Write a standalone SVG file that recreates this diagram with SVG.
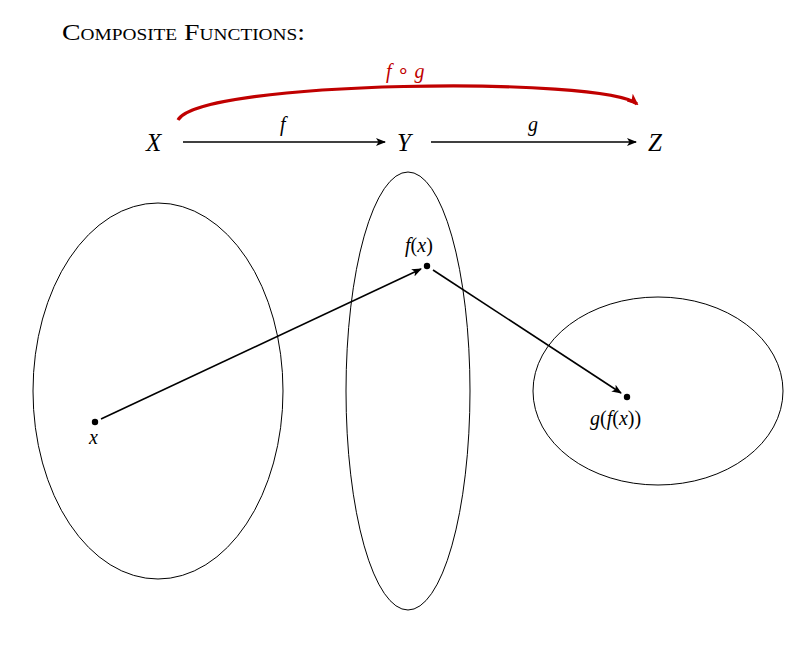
<svg xmlns="http://www.w3.org/2000/svg" width="800" height="662" viewBox="0 0 800 662">
<style>
.m{font-family:"Liberation Serif",serif;font-style:italic;fill:#000}
.u{font-style:normal}
.e{fill:none;stroke:#000;stroke-width:1}
.c{stroke:#000;stroke-width:1.6;fill:none}
</style>
<defs>
<marker id="ah" markerWidth="10" markerHeight="8" refX="9" refY="4" orient="auto" markerUnits="userSpaceOnUse"><path d="M0,0 L10,4 L0,8 L2.5,4Z" fill="#000"/></marker>
<marker id="ahr" markerWidth="12" markerHeight="10" refX="10" refY="5" orient="auto" markerUnits="userSpaceOnUse"><path d="M0,0 L12,5 L0,10 L3,5Z" fill="#c00000"/></marker>
</defs>
<rect width="800" height="662" fill="#fff"/>
<text x="62" y="40" font-family="Liberation Serif,serif" font-size="23" textLength="243" lengthAdjust="spacingAndGlyphs" style="font-variant:small-caps">Composite Functions:</text>
<g id="X"><text class="m" x="146" y="151" font-size="25">X</text></g>
<g id="Y"><text class="m" x="397" y="151" font-size="25">Y</text></g>
<g id="Z"><text class="m" x="648" y="151" font-size="25">Z</text></g>
<g id="A"><ellipse class="e" cx="158" cy="391" rx="125" ry="188"/><circle cx="95" cy="422" r="3.2"/><text class="m" x="89" y="444" font-size="20">x</text></g>
<g id="B"><ellipse class="e" cx="408" cy="391" rx="62" ry="219"/><circle cx="427" cy="266" r="3.2"/><text class="m" x="405" y="252" font-size="20">f<tspan class="u">(</tspan>x<tspan class="u">)</tspan></text></g>
<g id="C"><ellipse class="e" cx="658" cy="391" rx="125" ry="94"/><circle cx="627" cy="397" r="3.2"/><text class="m" x="590" y="425" font-size="20">g<tspan class="u">(</tspan>f<tspan class="u">(</tspan>x<tspan class="u">))</tspan></text></g>
<g id="connectors">
<line class="c" x1="183" y1="142" x2="385" y2="142" marker-end="url(#ah)"/>
<line class="c" x1="431" y1="142" x2="636" y2="142" marker-end="url(#ah)"/>
<text class="m" x="280" y="131" font-size="20">f</text>
<text class="m" x="528" y="131" font-size="20">g</text>
<path d="M178,120 C200,80 605,76 637,104" fill="none" stroke="#c00000" stroke-width="3.2" marker-end="url(#ahr)"/>
<text class="m" x="386" y="78" font-size="20" style="fill:#c00000">f <tspan class="u">∘</tspan> g</text>
<line class="c" x1="101" y1="419" x2="421" y2="269" marker-end="url(#ah)"/>
<line class="c" x1="433" y1="270" x2="621" y2="393" marker-end="url(#ah)"/>
</g>
</svg>
